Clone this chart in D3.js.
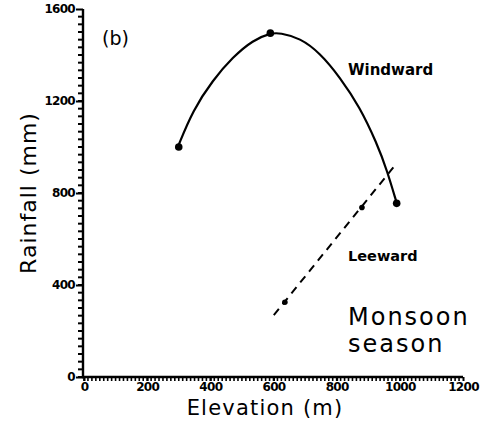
<!DOCTYPE html>
<html>
<head>
<meta charset="utf-8">
<script src="https://cdn.jsdelivr.net/npm/d3@7"></script>
<style>
  html, body { margin: 0; padding: 0; background: #fff; }
  svg text { font-family: "DejaVu Sans", sans-serif; fill: #000; }
</style>
</head>
<body>
<div id="chart"></div>
<script>
// measured stations (elevation m, rainfall mm)
const windwardPoints = [[300, 1000], [590, 1495], [990, 755]]
const leewardPoints = [[636, 325], [880, 737]]

// windward fitted curve
const windwardCurve = [
  [297, 1000], [345, 1161], [408, 1291], [471, 1391], [535, 1465],
  [592, 1496], [620, 1496], [684, 1474], [747, 1409], [810, 1304],
  [873, 1174], [927, 1017], [959, 900], [990, 757]
]

// leeward fitted line
const leewardLine = [[601, 269], [984, 919]]

const xTicks = [0, 200, 400, 600, 800, 1000, 1200]
const yTicks = [0, 400, 800, 1200, 1600]
const xMinorStep = 12.5
const yMinorStep = 400 / 12

const width = 488
const height = 430

const svg = d3.select("#chart")
  .append("svg")
  .attr("width", width)
  .attr("height", height)

const x = d3.scaleLinear().domain([0, 1200]).range([84, 463])
const y = d3.scaleLinear().domain([0, 1600]).range([377, 9])
const x0 = x(0) - 1

// minor ticks first so the axes sit on top
const minor = svg.append("g").attr("stroke", "#000")

minor.selectAll("line.ym")
  .data(d3.range(0, 1600, yMinorStep))
  .join("line")
  .attr("class", "ym")
  .attr("x1", x0 - 5)
  .attr("x2", x0)
  .attr("y1", d => y(d))
  .attr("y2", d => y(d))
  .attr("stroke-width", 2)

minor.selectAll("line.xm")
  .data(d3.range(0, 1200, xMinorStep))
  .join("line")
  .attr("class", "xm")
  .attr("x1", d => x(d))
  .attr("x2", d => x(d))
  .attr("y1", y(0))
  .attr("y2", y(0) + 4)
  .attr("stroke-width", 1.6)

// y axis
const yAxis = d3.axisLeft(y)
  .tickValues(yTicks)
  .tickFormat(d3.format("d"))
  .tickSize(7)
  .tickPadding(1)

const gy = svg.append("g")
  .attr("transform", `translate(${x0},0)`)
  .call(yAxis)

gy.select(".domain").attr("stroke-width", 2.4).attr("d", `M0,${y(1600)}V${y(0)}`)
gy.selectAll(".tick line").attr("stroke-width", 2)
gy.selectAll(".tick text")
  .attr("font-size", 12)
  .attr("font-weight", "bold")
  .attr("letter-spacing", "-0.7")

// x axis
const xAxis = d3.axisBottom(x)
  .tickValues(xTicks)
  .tickFormat(d3.format("d"))
  .tickSize(4)
  .tickPadding(1)

const gx = svg.append("g")
  .attr("transform", `translate(0,${y(0)})`)
  .call(xAxis)

gx.select(".domain").attr("stroke-width", 2.4).attr("d", `M${x(0) - 2},0H${x(1200)}`)
gx.selectAll(".tick line").attr("stroke-width", 2)
gx.selectAll(".tick text")
  .attr("font-size", 12)
  .attr("font-weight", "bold")
  .attr("letter-spacing", "-0.7")

// axis titles
svg.append("text")
  .attr("x", 265)
  .attr("y", 415)
  .attr("text-anchor", "middle")
  .attr("font-size", 21)
  .attr("letter-spacing", "1.2")
  .text("Elevation  (m)")

svg.append("text")
  .attr("transform", "translate(36,193) rotate(-90)")
  .attr("text-anchor", "middle")
  .attr("font-size", 22)
  .attr("letter-spacing", "1")
  .text("Rainfall  (mm)")

// windward curve
const line = d3.line()
  .x(d => x(d[0]))
  .y(d => y(d[1]))
  .curve(d3.curveBasis)

svg.append("path")
  .datum(windwardCurve)
  .attr("d", line)
  .attr("fill", "none")
  .attr("stroke", "#000")
  .attr("stroke-width", 2.2)

svg.append("g")
  .selectAll("circle")
  .data(windwardPoints)
  .join("circle")
  .attr("cx", d => x(d[0]))
  .attr("cy", d => y(d[1]))
  .attr("r", 3.8)
  .attr("fill", "#000")

// leeward line
svg.append("path")
  .datum(leewardLine)
  .attr("d", d3.line().x(d => x(d[0])).y(d => y(d[1])))
  .attr("fill", "none")
  .attr("stroke", "#000")
  .attr("stroke-width", 2)
  .attr("stroke-dasharray", "8,6")

svg.append("g")
  .selectAll("circle")
  .data(leewardPoints)
  .join("circle")
  .attr("cx", d => x(d[0]))
  .attr("cy", d => y(d[1]))
  .attr("r", 2.8)
  .attr("fill", "#000")

// annotations
svg.append("text")
  .attr("x", 102)
  .attr("y", 45)
  .attr("font-size", 19)
  .text("(b)")

svg.append("text")
  .attr("x", 348)
  .attr("y", 75)
  .attr("font-size", 15)
  .attr("font-weight", "bold")
  .text("Windward")

svg.append("text")
  .attr("x", 348)
  .attr("y", 261)
  .attr("font-size", 14.5)
  .attr("font-weight", "bold")
  .text("Leeward")

svg.append("text")
  .attr("x", 348)
  .attr("y", 325)
  .attr("font-size", 24)
  .attr("letter-spacing", "2")
  .text("Monsoon")

svg.append("text")
  .attr("x", 348)
  .attr("y", 352)
  .attr("font-size", 24)
  .attr("letter-spacing", "2")
  .text("season")
</script>
</body>
</html>
